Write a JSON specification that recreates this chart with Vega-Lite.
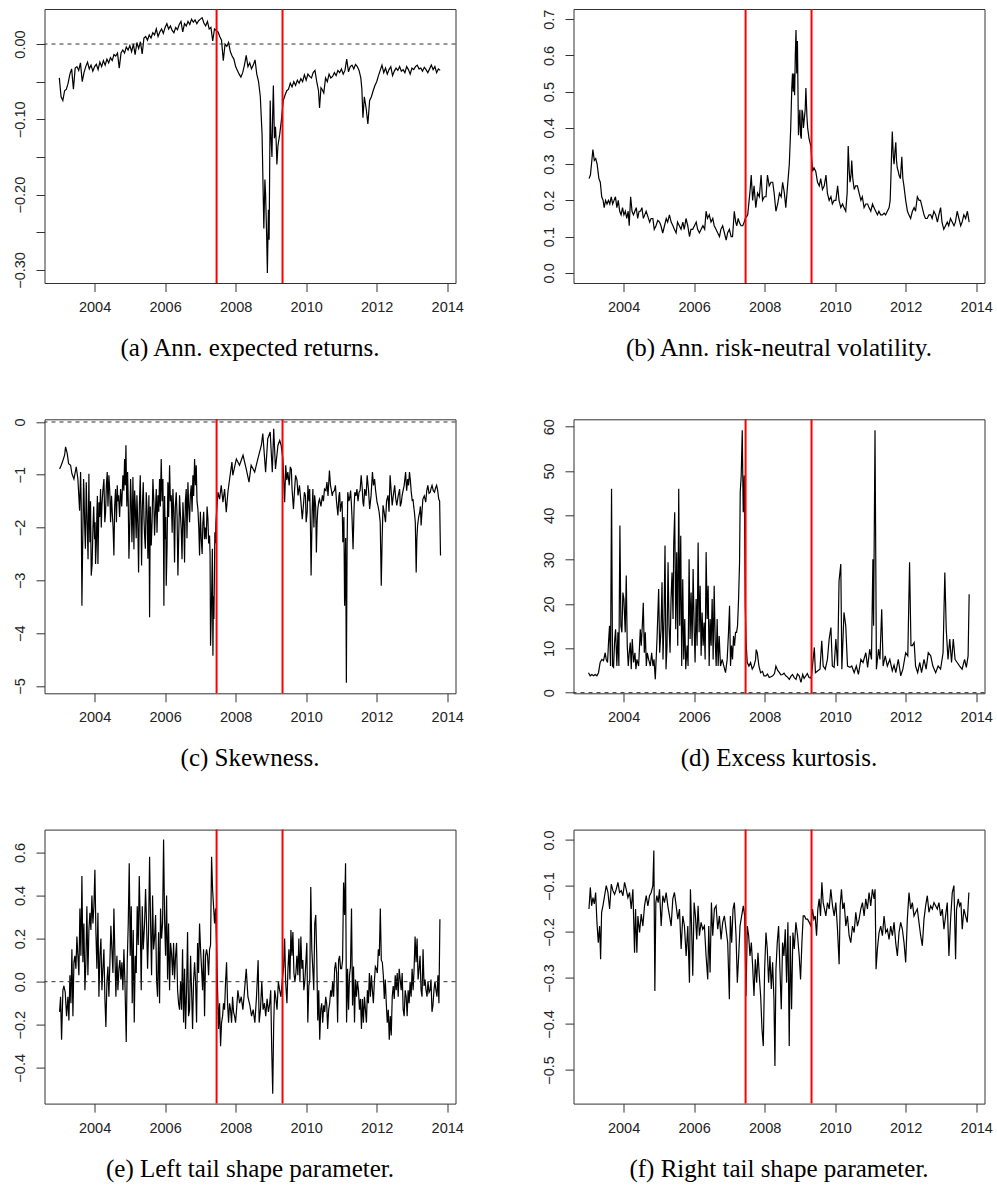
{
"$schema": "https://vega.github.io/schema/vega-lite/v6.json",
"background": "white",
"padding": {"left": 11.5, "top": 7, "right": 5, "bottom": 5},
"datasets": {
"breaks": [{"t": 2007.46}, {"t": 2009.33}],
"a": [
{"t":2003.00,"v":-0.045},{"t":2003.05,"v":-0.070},{"t":2003.10,"v":-0.075},{"t":2003.15,"v":-0.062},{"t":2003.20,"v":-0.060},{"t":2003.25,"v":-0.052},{"t":2003.30,"v":-0.040},{"t":2003.35,"v":-0.033},{"t":2003.40,"v":-0.060},{"t":2003.45,"v":-0.032},{"t":2003.50,"v":-0.030},{"t":2003.55,"v":-0.035},{"t":2003.60,"v":-0.025},{"t":2003.65,"v":-0.050},{"t":2003.70,"v":-0.038},{"t":2003.75,"v":-0.030},{"t":2003.80,"v":-0.024},{"t":2003.85,"v":-0.033},{"t":2003.90,"v":-0.028},{"t":2003.95,"v":-0.036},
{"t":2004.00,"v":-0.030},{"t":2004.05,"v":-0.027},{"t":2004.10,"v":-0.034},{"t":2004.15,"v":-0.024},{"t":2004.20,"v":-0.030},{"t":2004.25,"v":-0.022},{"t":2004.30,"v":-0.028},{"t":2004.35,"v":-0.020},{"t":2004.40,"v":-0.025},{"t":2004.45,"v":-0.018},{"t":2004.50,"v":-0.022},{"t":2004.55,"v":-0.014},{"t":2004.60,"v":-0.016},{"t":2004.65,"v":-0.012},{"t":2004.70,"v":-0.032},{"t":2004.75,"v":-0.012},{"t":2004.80,"v":-0.008},{"t":2004.85,"v":-0.012},{"t":2004.90,"v":-0.004},{"t":2004.95,"v":-0.008},
{"t":2005.00,"v":-0.002},{"t":2005.05,"v":-0.010},{"t":2005.10,"v":0.000},{"t":2005.15,"v":-0.014},{"t":2005.20,"v":0.002},{"t":2005.25,"v":-0.006},{"t":2005.30,"v":0.003},{"t":2005.35,"v":-0.013},{"t":2005.40,"v":0.008},{"t":2005.45,"v":0.010},{"t":2005.50,"v":0.005},{"t":2005.55,"v":0.012},{"t":2005.60,"v":0.008},{"t":2005.65,"v":0.015},{"t":2005.70,"v":0.012},{"t":2005.75,"v":0.020},{"t":2005.80,"v":0.010},{"t":2005.85,"v":0.016},{"t":2005.90,"v":0.020},{"t":2005.95,"v":0.014},
{"t":2006.00,"v":0.022},{"t":2006.05,"v":0.027},{"t":2006.10,"v":0.020},{"t":2006.15,"v":0.024},{"t":2006.20,"v":0.018},{"t":2006.25,"v":0.015},{"t":2006.30,"v":0.022},{"t":2006.35,"v":0.019},{"t":2006.40,"v":0.026},{"t":2006.45,"v":0.030},{"t":2006.50,"v":0.016},{"t":2006.55,"v":0.027},{"t":2006.60,"v":0.024},{"t":2006.65,"v":0.030},{"t":2006.70,"v":0.026},{"t":2006.75,"v":0.033},{"t":2006.80,"v":0.029},{"t":2006.85,"v":0.032},{"t":2006.90,"v":0.027},{"t":2006.95,"v":0.031},
{"t":2007.00,"v":0.033},{"t":2007.05,"v":0.035},{"t":2007.10,"v":0.028},{"t":2007.15,"v":0.024},{"t":2007.20,"v":0.030},{"t":2007.25,"v":0.020},{"t":2007.30,"v":0.022},{"t":2007.35,"v":0.004},{"t":2007.40,"v":0.020},{"t":2007.45,"v":0.018},{"t":2007.50,"v":0.016},{"t":2007.55,"v":0.010},{"t":2007.60,"v":0.005},{"t":2007.65,"v":-0.022},{"t":2007.70,"v":0.000},{"t":2007.75,"v":-0.003},{"t":2007.80,"v":0.002},{"t":2007.85,"v":-0.010},{"t":2007.90,"v":-0.016},{"t":2007.95,"v":-0.020},
{"t":2008.00,"v":-0.030},{"t":2008.05,"v":-0.035},{"t":2008.10,"v":-0.040},{"t":2008.15,"v":-0.044},{"t":2008.20,"v":-0.038},{"t":2008.25,"v":-0.028},{"t":2008.30,"v":-0.015},{"t":2008.35,"v":-0.030},{"t":2008.40,"v":-0.025},{"t":2008.45,"v":-0.033},{"t":2008.50,"v":-0.028},{"t":2008.55,"v":-0.021},{"t":2008.60,"v":-0.040},{"t":2008.65,"v":-0.050},{"t":2008.70,"v":-0.070},{"t":2008.75,"v":-0.120},{"t":2008.80,"v":-0.245},{"t":2008.83,"v":-0.180},{"t":2008.85,"v":-0.200},{"t":2008.88,"v":-0.255},{"t":2008.90,"v":-0.304},{"t":2008.93,"v":-0.220},{"t":2008.95,"v":-0.260},
{"t":2008.98,"v":-0.075},{"t":2009.00,"v":-0.120},{"t":2009.03,"v":-0.150},{"t":2009.05,"v":-0.095},{"t":2009.07,"v":-0.055},{"t":2009.10,"v":-0.125},{"t":2009.13,"v":-0.110},{"t":2009.15,"v":-0.130},{"t":2009.17,"v":-0.160},{"t":2009.20,"v":-0.135},{"t":2009.25,"v":-0.120},{"t":2009.30,"v":-0.100},{"t":2009.35,"v":-0.075},{"t":2009.40,"v":-0.068},{"t":2009.45,"v":-0.062},{"t":2009.50,"v":-0.060},{"t":2009.55,"v":-0.052},{"t":2009.60,"v":-0.057},{"t":2009.65,"v":-0.050},{"t":2009.70,"v":-0.055},{"t":2009.75,"v":-0.048},{"t":2009.80,"v":-0.052},{"t":2009.85,"v":-0.046},{"t":2009.90,"v":-0.050},{"t":2009.95,"v":-0.041},
{"t":2010.00,"v":-0.048},{"t":2010.05,"v":-0.040},{"t":2010.10,"v":-0.043},{"t":2010.15,"v":-0.045},{"t":2010.20,"v":-0.038},{"t":2010.25,"v":-0.035},{"t":2010.30,"v":-0.050},{"t":2010.35,"v":-0.062},{"t":2010.38,"v":-0.085},{"t":2010.42,"v":-0.058},{"t":2010.45,"v":-0.060},{"t":2010.50,"v":-0.065},{"t":2010.55,"v":-0.045},{"t":2010.60,"v":-0.050},{"t":2010.65,"v":-0.040},{"t":2010.70,"v":-0.045},{"t":2010.75,"v":-0.043},{"t":2010.80,"v":-0.038},{"t":2010.85,"v":-0.042},{"t":2010.90,"v":-0.035},{"t":2010.95,"v":-0.038},
{"t":2011.00,"v":-0.033},{"t":2011.05,"v":-0.040},{"t":2011.10,"v":-0.035},{"t":2011.15,"v":-0.020},{"t":2011.20,"v":-0.037},{"t":2011.25,"v":-0.030},{"t":2011.30,"v":-0.028},{"t":2011.35,"v":-0.033},{"t":2011.40,"v":-0.027},{"t":2011.45,"v":-0.030},{"t":2011.50,"v":-0.035},{"t":2011.55,"v":-0.045},{"t":2011.58,"v":-0.060},{"t":2011.61,"v":-0.098},{"t":2011.65,"v":-0.070},{"t":2011.70,"v":-0.085},{"t":2011.75,"v":-0.106},{"t":2011.80,"v":-0.075},{"t":2011.85,"v":-0.070},{"t":2011.90,"v":-0.062},{"t":2011.95,"v":-0.055},
{"t":2012.00,"v":-0.050},{"t":2012.05,"v":-0.042},{"t":2012.10,"v":-0.035},{"t":2012.15,"v":-0.028},{"t":2012.20,"v":-0.038},{"t":2012.25,"v":-0.032},{"t":2012.30,"v":-0.040},{"t":2012.35,"v":-0.034},{"t":2012.40,"v":-0.030},{"t":2012.45,"v":-0.042},{"t":2012.50,"v":-0.036},{"t":2012.55,"v":-0.032},{"t":2012.60,"v":-0.035},{"t":2012.65,"v":-0.030},{"t":2012.70,"v":-0.036},{"t":2012.75,"v":-0.034},{"t":2012.80,"v":-0.038},{"t":2012.85,"v":-0.030},{"t":2012.90,"v":-0.034},{"t":2012.95,"v":-0.040},
{"t":2013.00,"v":-0.032},{"t":2013.05,"v":-0.034},{"t":2013.10,"v":-0.030},{"t":2013.15,"v":-0.028},{"t":2013.20,"v":-0.033},{"t":2013.25,"v":-0.032},{"t":2013.30,"v":-0.036},{"t":2013.35,"v":-0.031},{"t":2013.40,"v":-0.034},{"t":2013.45,"v":-0.038},{"t":2013.50,"v":-0.033},{"t":2013.55,"v":-0.028},{"t":2013.60,"v":-0.034},{"t":2013.65,"v":-0.030},{"t":2013.70,"v":-0.038},{"t":2013.75,"v":-0.033},{"t":2013.80,"v":-0.035}
],
"b": [
{"t":2003.02,"v":0.26},{"t":2003.06,"v":0.27},{"t":2003.10,"v":0.31},{"t":2003.13,"v":0.34},{"t":2003.17,"v":0.31},{"t":2003.21,"v":0.315},{"t":2003.25,"v":0.30},{"t":2003.30,"v":0.26},{"t":2003.34,"v":0.25},{"t":2003.38,"v":0.21},{"t":2003.42,"v":0.20},{"t":2003.45,"v":0.18},{"t":2003.49,"v":0.20},{"t":2003.53,"v":0.19},{"t":2003.57,"v":0.20},{"t":2003.61,"v":0.19},{"t":2003.65,"v":0.21},{"t":2003.69,"v":0.19},{"t":2003.73,"v":0.20},{"t":2003.77,"v":0.21},{"t":2003.81,"v":0.18},{"t":2003.85,"v":0.20},{"t":2003.89,"v":0.17},{"t":2003.93,"v":0.16},{"t":2003.97,"v":0.18},
{"t":2004.01,"v":0.16},{"t":2004.05,"v":0.17},{"t":2004.09,"v":0.15},{"t":2004.13,"v":0.17},{"t":2004.16,"v":0.13},{"t":2004.20,"v":0.21},{"t":2004.24,"v":0.17},{"t":2004.28,"v":0.16},{"t":2004.32,"v":0.17},{"t":2004.36,"v":0.18},{"t":2004.40,"v":0.15},{"t":2004.44,"v":0.17},{"t":2004.48,"v":0.17},{"t":2004.52,"v":0.18},{"t":2004.56,"v":0.15},{"t":2004.60,"v":0.16},{"t":2004.64,"v":0.17},{"t":2004.69,"v":0.155},{"t":2004.74,"v":0.14},{"t":2004.78,"v":0.15},{"t":2004.83,"v":0.15},{"t":2004.87,"v":0.12},{"t":2004.92,"v":0.13},{"t":2004.97,"v":0.145},
{"t":2005.02,"v":0.14},{"t":2005.06,"v":0.13},{"t":2005.11,"v":0.11},{"t":2005.16,"v":0.13},{"t":2005.21,"v":0.15},{"t":2005.25,"v":0.14},{"t":2005.30,"v":0.16},{"t":2005.35,"v":0.14},{"t":2005.40,"v":0.13},{"t":2005.44,"v":0.12},{"t":2005.49,"v":0.11},{"t":2005.53,"v":0.14},{"t":2005.58,"v":0.13},{"t":2005.63,"v":0.12},{"t":2005.68,"v":0.14},{"t":2005.72,"v":0.12},{"t":2005.77,"v":0.15},{"t":2005.82,"v":0.13},{"t":2005.87,"v":0.10},{"t":2005.91,"v":0.12},{"t":2005.96,"v":0.12},
{"t":2006.01,"v":0.13},{"t":2006.06,"v":0.14},{"t":2006.10,"v":0.12},{"t":2006.15,"v":0.11},{"t":2006.20,"v":0.12},{"t":2006.25,"v":0.13},{"t":2006.30,"v":0.12},{"t":2006.34,"v":0.17},{"t":2006.38,"v":0.15},{"t":2006.43,"v":0.16},{"t":2006.48,"v":0.14},{"t":2006.53,"v":0.15},{"t":2006.57,"v":0.13},{"t":2006.62,"v":0.12},{"t":2006.67,"v":0.11},{"t":2006.72,"v":0.10},{"t":2006.76,"v":0.12},{"t":2006.81,"v":0.13},{"t":2006.86,"v":0.11},{"t":2006.91,"v":0.09},{"t":2006.95,"v":0.11},
{"t":2007.00,"v":0.12},{"t":2007.05,"v":0.10},{"t":2007.09,"v":0.10},{"t":2007.14,"v":0.17},{"t":2007.18,"v":0.14},{"t":2007.21,"v":0.13},{"t":2007.25,"v":0.15},{"t":2007.28,"v":0.14},{"t":2007.33,"v":0.13},{"t":2007.38,"v":0.13},{"t":2007.42,"v":0.14},{"t":2007.45,"v":0.15},{"t":2007.49,"v":0.155},{"t":2007.52,"v":0.16},{"t":2007.56,"v":0.20},{"t":2007.59,"v":0.23},{"t":2007.62,"v":0.27},{"t":2007.66,"v":0.20},{"t":2007.70,"v":0.24},{"t":2007.75,"v":0.18},{"t":2007.80,"v":0.22},{"t":2007.85,"v":0.21},{"t":2007.90,"v":0.27},{"t":2007.94,"v":0.20},{"t":2007.99,"v":0.21},
{"t":2008.04,"v":0.21},{"t":2008.08,"v":0.27},{"t":2008.13,"v":0.24},{"t":2008.18,"v":0.25},{"t":2008.23,"v":0.25},{"t":2008.27,"v":0.22},{"t":2008.32,"v":0.17},{"t":2008.37,"v":0.19},{"t":2008.42,"v":0.22},{"t":2008.47,"v":0.21},{"t":2008.51,"v":0.25},{"t":2008.56,"v":0.22},{"t":2008.60,"v":0.18},{"t":2008.65,"v":0.24},{"t":2008.70,"v":0.30},{"t":2008.74,"v":0.40},{"t":2008.77,"v":0.51},{"t":2008.79,"v":0.55},{"t":2008.81,"v":0.50},{"t":2008.83,"v":0.55},{"t":2008.85,"v":0.49},{"t":2008.87,"v":0.60},{"t":2008.89,"v":0.67},{"t":2008.91,"v":0.55},{"t":2008.93,"v":0.64},{"t":2008.96,"v":0.38},{"t":2008.98,"v":0.42},
{"t":2009.00,"v":0.45},{"t":2009.02,"v":0.38},{"t":2009.04,"v":0.37},{"t":2009.06,"v":0.45},{"t":2009.08,"v":0.44},{"t":2009.10,"v":0.40},{"t":2009.12,"v":0.42},{"t":2009.15,"v":0.45},{"t":2009.17,"v":0.51},{"t":2009.20,"v":0.43},{"t":2009.22,"v":0.40},{"t":2009.26,"v":0.37},{"t":2009.31,"v":0.35},{"t":2009.36,"v":0.28},{"t":2009.40,"v":0.29},{"t":2009.45,"v":0.28},{"t":2009.50,"v":0.25},{"t":2009.55,"v":0.24},{"t":2009.59,"v":0.26},{"t":2009.64,"v":0.23},{"t":2009.69,"v":0.24},{"t":2009.74,"v":0.27},{"t":2009.78,"v":0.22},{"t":2009.83,"v":0.20},{"t":2009.88,"v":0.21},{"t":2009.92,"v":0.19},{"t":2009.97,"v":0.20},
{"t":2010.02,"v":0.20},{"t":2010.07,"v":0.24},{"t":2010.11,"v":0.20},{"t":2010.16,"v":0.18},{"t":2010.21,"v":0.19},{"t":2010.25,"v":0.18},{"t":2010.30,"v":0.17},{"t":2010.34,"v":0.22},{"t":2010.37,"v":0.35},{"t":2010.40,"v":0.28},{"t":2010.42,"v":0.25},{"t":2010.45,"v":0.27},{"t":2010.47,"v":0.31},{"t":2010.50,"v":0.26},{"t":2010.54,"v":0.23},{"t":2010.58,"v":0.24},{"t":2010.63,"v":0.24},{"t":2010.68,"v":0.22},{"t":2010.73,"v":0.20},{"t":2010.77,"v":0.21},{"t":2010.82,"v":0.18},{"t":2010.87,"v":0.19},{"t":2010.92,"v":0.19},{"t":2010.96,"v":0.18},
{"t":2011.01,"v":0.17},{"t":2011.06,"v":0.19},{"t":2011.10,"v":0.18},{"t":2011.15,"v":0.17},{"t":2011.20,"v":0.16},{"t":2011.24,"v":0.17},{"t":2011.29,"v":0.16},{"t":2011.34,"v":0.16},{"t":2011.39,"v":0.165},{"t":2011.43,"v":0.16},{"t":2011.48,"v":0.17},{"t":2011.53,"v":0.18},{"t":2011.56,"v":0.20},{"t":2011.58,"v":0.26},{"t":2011.60,"v":0.33},{"t":2011.62,"v":0.39},{"t":2011.65,"v":0.32},{"t":2011.67,"v":0.30},{"t":2011.70,"v":0.34},{"t":2011.72,"v":0.36},{"t":2011.74,"v":0.31},{"t":2011.76,"v":0.29},{"t":2011.79,"v":0.28},{"t":2011.81,"v":0.27},{"t":2011.85,"v":0.26},{"t":2011.89,"v":0.32},{"t":2011.92,"v":0.26},{"t":2011.95,"v":0.24},
{"t":2012.00,"v":0.20},{"t":2012.05,"v":0.17},{"t":2012.09,"v":0.16},{"t":2012.14,"v":0.15},{"t":2012.19,"v":0.17},{"t":2012.24,"v":0.18},{"t":2012.28,"v":0.17},{"t":2012.33,"v":0.21},{"t":2012.38,"v":0.20},{"t":2012.42,"v":0.20},{"t":2012.47,"v":0.18},{"t":2012.52,"v":0.16},{"t":2012.56,"v":0.15},{"t":2012.61,"v":0.15},{"t":2012.66,"v":0.16},{"t":2012.71,"v":0.16},{"t":2012.75,"v":0.15},{"t":2012.80,"v":0.17},{"t":2012.85,"v":0.16},{"t":2012.90,"v":0.14},{"t":2012.94,"v":0.16},{"t":2012.99,"v":0.18},
{"t":2013.03,"v":0.14},{"t":2013.08,"v":0.12},{"t":2013.13,"v":0.13},{"t":2013.18,"v":0.14},{"t":2013.22,"v":0.13},{"t":2013.27,"v":0.15},{"t":2013.32,"v":0.14},{"t":2013.37,"v":0.13},{"t":2013.41,"v":0.14},{"t":2013.46,"v":0.17},{"t":2013.51,"v":0.15},{"t":2013.56,"v":0.13},{"t":2013.60,"v":0.14},{"t":2013.65,"v":0.16},{"t":2013.70,"v":0.15},{"t":2013.75,"v":0.17},{"t":2013.80,"v":0.14}
],
"c": [
{"t":2003.008,"v":-0.89},{"t":2003.055,"v":-0.82},{"t":2003.102,"v":-0.73},{"t":2003.150,"v":-0.63},{"t":2003.178,"v":-0.47},{"t":2003.225,"v":-0.60},{"t":2003.263,"v":-0.79},{"t":2003.320,"v":-0.82},{"t":2003.357,"v":-0.98},{"t":2003.414,"v":-1.08},{"t":2003.480,"v":-0.85},{"t":2003.527,"v":-1.08},{"t":2003.575,"v":-1.68},{"t":2003.603,"v":-0.95},{"t":2003.641,"v":-3.48},{"t":2003.688,"v":-1.08},{"t":2003.716,"v":-1.90},{"t":2003.764,"v":-1.14},{"t":2003.792,"v":-1.96},{"t":2003.839,"v":-0.98},{"t":2003.868,"v":-2.28},{"t":2003.905,"v":-2.91},{"t":2003.953,"v":-2.03},
{"t":2004.000,"v":-2.22},{"t":2004.028,"v":-2.69},{"t":2004.066,"v":-1.71},{"t":2004.095,"v":-2.69},{"t":2004.123,"v":-1.52},{"t":2004.170,"v":-1.27},{"t":2004.208,"v":-1.58},{"t":2004.265,"v":-1.08},{"t":2004.312,"v":-1.71},{"t":2004.359,"v":-0.95},{"t":2004.406,"v":-1.01},{"t":2004.454,"v":-1.90},{"t":2004.501,"v":-1.71},{"t":2004.548,"v":-2.53},{"t":2004.595,"v":-1.27},{"t":2004.643,"v":-1.20},{"t":2004.681,"v":-1.39},{"t":2004.737,"v":-1.27},{"t":2004.803,"v":-1.01},{"t":2004.851,"v":-0.70},{"t":2004.889,"v":-0.44},{"t":2004.936,"v":-0.95},{"t":2004.974,"v":-2.59},
{"t":2005.021,"v":-1.08},{"t":2005.059,"v":-2.28},{"t":2005.087,"v":-1.04},{"t":2005.116,"v":-2.41},{"t":2005.154,"v":-1.58},{"t":2005.201,"v":-1.39},{"t":2005.248,"v":-2.85},{"t":2005.295,"v":-1.01},{"t":2005.333,"v":-2.72},{"t":2005.380,"v":-1.14},{"t":2005.418,"v":-2.15},{"t":2005.465,"v":-1.33},{"t":2005.512,"v":-2.59},{"t":2005.541,"v":-1.39},{"t":2005.560,"v":-3.70},{"t":2005.607,"v":-2.34},{"t":2005.654,"v":-1.08},{"t":2005.701,"v":-2.15},{"t":2005.749,"v":-1.27},{"t":2005.796,"v":-1.39},{"t":2005.843,"v":-1.08},{"t":2005.890,"v":-0.70},{"t":2005.938,"v":-1.08},{"t":2005.966,"v":-3.48},
{"t":2006.004,"v":-2.22},{"t":2006.032,"v":-3.10},{"t":2006.079,"v":-1.14},{"t":2006.127,"v":-0.82},{"t":2006.174,"v":-1.39},{"t":2006.221,"v":-1.27},{"t":2006.268,"v":-2.66},{"t":2006.316,"v":-1.33},{"t":2006.363,"v":-2.91},{"t":2006.410,"v":-1.39},{"t":2006.457,"v":-2.03},{"t":2006.505,"v":-1.52},{"t":2006.552,"v":-2.66},{"t":2006.599,"v":-1.27},{"t":2006.647,"v":-1.14},{"t":2006.694,"v":-1.90},{"t":2006.741,"v":-1.20},{"t":2006.788,"v":-1.01},{"t":2006.836,"v":-0.70},{"t":2006.883,"v":-0.82},{"t":2006.930,"v":-1.65},{"t":2006.977,"v":-2.53},
{"t":2007.025,"v":-2.22},{"t":2007.072,"v":-1.90},{"t":2007.119,"v":-2.22},{"t":2007.166,"v":-2.22},{"t":2007.214,"v":-1.84},{"t":2007.261,"v":-2.15},{"t":2007.289,"v":-4.24},{"t":2007.327,"v":-2.97},{"t":2007.356,"v":-4.43},{"t":2007.384,"v":-3.73},{"t":2007.412,"v":-2.09},{"t":2007.441,"v":-1.90},{"t":2007.498,"v":-1.33},{"t":2007.545,"v":-1.46},{"t":2007.592,"v":-1.20},{"t":2007.640,"v":-1.52},{"t":2007.687,"v":-1.27},{"t":2007.734,"v":-1.71},{"t":2007.781,"v":-1.33},{"t":2007.829,"v":-1.08},{"t":2007.895,"v":-0.76},
{"t":2007.92,"v":-1.01},{"t":2008.02,"v":-0.70},{"t":2008.11,"v":-0.82},{"t":2008.21,"v":-0.63},{"t":2008.30,"v":-0.89},{"t":2008.38,"v":-1.14},{"t":2008.44,"v":-0.82},{"t":2008.54,"v":-0.95},{"t":2008.63,"v":-0.70},{"t":2008.73,"v":-0.44},{"t":2008.77,"v":-0.22},{"t":2008.85,"v":-0.95},{"t":2008.91,"v":-0.32},{"t":2008.98,"v":-0.19},{"t":2009.04,"v":-0.95},{"t":2009.08,"v":-0.13},{"t":2009.13,"v":-0.89},{"t":2009.20,"v":-0.44},{"t":2009.25,"v":-0.35},{"t":2009.29,"v":-0.44},{"t":2009.34,"v":-0.70},{"t":2009.39,"v":-1.52},{"t":2009.42,"v":-0.82},{"t":2009.48,"v":-0.95},{"t":2009.55,"v":-0.85},{"t":2009.60,"v":-1.27},{"t":2009.64,"v":-1.65},{"t":2009.70,"v":-1.01},{"t":2009.77,"v":-1.39},{"t":2009.81,"v":-1.20},{"t":2009.89,"v":-1.84},{"t":2009.95,"v":-1.33},
{"t":2010.00,"v":-1.90},{"t":2010.05,"v":-1.20},{"t":2010.10,"v":-1.27},{"t":2010.14,"v":-2.91},{"t":2010.19,"v":-1.27},{"t":2010.24,"v":-1.39},{"t":2010.29,"v":-2.47},{"t":2010.33,"v":-1.65},{"t":2010.38,"v":-1.46},{"t":2010.46,"v":-1.39},{"t":2010.52,"v":-1.27},{"t":2010.59,"v":-1.14},{"t":2010.66,"v":-0.92},{"t":2010.71,"v":-1.27},{"t":2010.76,"v":-1.33},{"t":2010.83,"v":-1.20},{"t":2010.90,"v":-1.77},{"t":2010.95,"v":-1.33},{"t":2010.99,"v":-1.58},
{"t":2011.04,"v":-2.28},{"t":2011.09,"v":-3.48},{"t":2011.14,"v":-4.94},{"t":2011.18,"v":-1.33},{"t":2011.23,"v":-1.46},{"t":2011.28,"v":-1.52},{"t":2011.33,"v":-2.41},{"t":2011.38,"v":-1.33},{"t":2011.44,"v":-1.27},{"t":2011.50,"v":-1.33},{"t":2011.56,"v":-1.01},{"t":2011.61,"v":-1.52},{"t":2011.66,"v":-1.27},{"t":2011.73,"v":-1.01},{"t":2011.80,"v":-1.65},{"t":2011.88,"v":-0.95},{"t":2011.94,"v":-1.08},
{"t":2012.01,"v":-1.52},{"t":2012.07,"v":-1.71},{"t":2012.13,"v":-3.10},{"t":2012.18,"v":-1.58},{"t":2012.25,"v":-1.90},{"t":2012.32,"v":-1.39},{"t":2012.38,"v":-1.01},{"t":2012.44,"v":-1.58},{"t":2012.51,"v":-1.20},{"t":2012.57,"v":-1.58},{"t":2012.65,"v":-1.27},{"t":2012.70,"v":-1.52},{"t":2012.74,"v":-1.33},{"t":2012.82,"v":-0.95},{"t":2012.88,"v":-1.08},{"t":2012.93,"v":-0.95},{"t":2012.98,"v":-1.33},
{"t":2013.03,"v":-1.46},{"t":2013.07,"v":-1.71},{"t":2013.12,"v":-2.85},{"t":2013.16,"v":-1.96},{"t":2013.22,"v":-1.71},{"t":2013.26,"v":-1.96},{"t":2013.31,"v":-1.46},{"t":2013.39,"v":-1.52},{"t":2013.45,"v":-1.20},{"t":2013.52,"v":-1.33},{"t":2013.57,"v":-1.20},{"t":2013.64,"v":-1.33},{"t":2013.70,"v":-1.20},{"t":2013.76,"v":-1.46},{"t":2013.81,"v":-2.53},
{"t":2003.62,"v":-1.5},{"t":2003.665,"v":-2.2},{"t":2003.70,"v":-1.3},{"t":2003.74,"v":-2.4},{"t":2003.78,"v":-1.6},{"t":2003.815,"v":-2.6},{"t":2003.85,"v":-1.7},{"t":2003.885,"v":-1.5},{"t":2003.93,"v":-2.7},{"t":2003.975,"v":-1.6},{"t":2004.015,"v":-1.9},{"t":2004.05,"v":-2.3},{"t":2004.08,"v":-1.4},{"t":2004.11,"v":-2.1},{"t":2004.145,"v":-1.8},{"t":2004.19,"v":-2.0},{"t":2004.235,"v":-1.3},{"t":2004.29,"v":-1.9},{"t":2004.335,"v":-1.2},{"t":2004.38,"v":-1.6},{"t":2004.43,"v":-1.3},{"t":2004.48,"v":-1.4},{"t":2004.525,"v":-2.0},{"t":2004.57,"v":-1.6},{"t":2004.62,"v":-1.9},{"t":2004.66,"v":-1.5},{"t":2004.71,"v":-1.8},{"t":2004.77,"v":-1.6},{"t":2004.83,"v":-1.3},{"t":2004.87,"v":-1.2},{"t":2004.915,"v":-1.6},{"t":2004.955,"v":-1.5},
{"t":2005.00,"v":-1.9},{"t":2005.04,"v":-1.5},{"t":2005.073,"v":-1.9},{"t":2005.10,"v":-1.6},{"t":2005.135,"v":-1.3},{"t":2005.18,"v":-2.2},{"t":2005.225,"v":-1.9},{"t":2005.27,"v":-1.6},{"t":2005.315,"v":-1.8},{"t":2005.355,"v":-1.6},{"t":2005.40,"v":-1.8},{"t":2005.44,"v":-2.4},{"t":2005.49,"v":-1.7},{"t":2005.525,"v":-2.0},{"t":2005.58,"v":-1.6},{"t":2005.63,"v":-1.9},{"t":2005.68,"v":-1.5},{"t":2005.725,"v":-1.7},{"t":2005.77,"v":-2.1},{"t":2005.82,"v":-1.7},{"t":2005.865,"v":-1.6},{"t":2005.915,"v":-1.5},{"t":2005.952,"v":-2.0},{"t":2005.985,"v":-1.4},
{"t":2006.018,"v":-1.8},{"t":2006.055,"v":-2.4},{"t":2006.10,"v":-1.8},{"t":2006.15,"v":-1.5},{"t":2006.20,"v":-2.1},{"t":2006.245,"v":-1.7},{"t":2006.29,"v":-1.6},{"t":2006.34,"v":-1.8},{"t":2006.385,"v":-2.2},{"t":2006.43,"v":-1.7},{"t":2006.48,"v":-2.6},{"t":2006.53,"v":-1.9},{"t":2006.575,"v":-1.5},{"t":2006.62,"v":-2.2},{"t":2006.67,"v":-1.6},{"t":2006.715,"v":-1.4},{"t":2006.765,"v":-1.7},{"t":2006.81,"v":-1.4},{"t":2006.86,"v":-1.2},{"t":2006.905,"v":-1.5},{"t":2006.955,"v":-2.0},
{"t":2007.00,"v":-1.7},{"t":2007.05,"v":-2.5},{"t":2007.095,"v":-1.7},{"t":2007.14,"v":-2.0},{"t":2007.19,"v":-1.6},{"t":2007.235,"v":-2.3},{"t":2007.275,"v":-2.5},{"t":2007.31,"v":-3.6},{"t":2007.34,"v":-2.4},{"t":2007.37,"v":-3.3},{"t":2007.40,"v":-2.8},{"t":2007.425,"v":-2.3},
{"t":2009.45,"v":-1.1},{"t":2009.52,"v":-1.2},{"t":2009.58,"v":-0.9},{"t":2009.67,"v":-1.3},{"t":2009.74,"v":-1.1},{"t":2009.85,"v":-1.5},{"t":2009.92,"v":-1.6},{"t":2009.98,"v":-1.4},{"t":2010.03,"v":-1.7},{"t":2010.08,"v":-1.5},{"t":2010.12,"v":-1.9},{"t":2010.17,"v":-1.7},{"t":2010.22,"v":-2.0},{"t":2010.27,"v":-1.6},{"t":2010.31,"v":-1.9},{"t":2010.36,"v":-1.5},{"t":2010.42,"v":-1.6},{"t":2010.49,"v":-1.5},{"t":2010.56,"v":-1.3},{"t":2010.62,"v":-1.4},{"t":2010.69,"v":-1.2},{"t":2010.74,"v":-1.4},{"t":2010.80,"v":-1.3},{"t":2010.86,"v":-1.5},{"t":2010.93,"v":-1.4},{"t":2010.97,"v":-1.7},
{"t":2011.02,"v":-1.5},{"t":2011.07,"v":-1.8},{"t":2011.12,"v":-2.2},{"t":2011.16,"v":-2.4},{"t":2011.21,"v":-1.5},{"t":2011.26,"v":-1.3},{"t":2011.30,"v":-1.8},{"t":2011.36,"v":-1.6},{"t":2011.41,"v":-1.4},{"t":2011.47,"v":-1.5},{"t":2011.53,"v":-1.3},{"t":2011.59,"v":-1.25},{"t":2011.63,"v":-1.6},{"t":2011.70,"v":-1.4},{"t":2011.77,"v":-1.3},{"t":2011.84,"v":-1.4},{"t":2011.91,"v":-1.2},{"t":2011.97,"v":-1.3},
{"t":2012.04,"v":-1.6},{"t":2012.10,"v":-1.9},{"t":2012.155,"v":-2.2},{"t":2012.21,"v":-1.7},{"t":2012.28,"v":-1.5},{"t":2012.35,"v":-1.7},{"t":2012.41,"v":-1.3},{"t":2012.47,"v":-1.4},{"t":2012.54,"v":-1.45},{"t":2012.61,"v":-1.4},{"t":2012.67,"v":-1.6},{"t":2012.72,"v":-1.4},{"t":2012.78,"v":-1.2},{"t":2012.85,"v":-1.3},{"t":2012.905,"v":-1.2},{"t":2012.955,"v":-1.1},
{"t":2013.01,"v":-1.5},{"t":2013.05,"v":-1.6},{"t":2013.095,"v":-1.9},{"t":2013.14,"v":-2.2},{"t":2013.19,"v":-1.8},{"t":2013.24,"v":-1.6},{"t":2013.285,"v":-1.7},{"t":2013.35,"v":-1.4},{"t":2013.42,"v":-1.3},{"t":2013.485,"v":-1.35},{"t":2013.545,"v":-1.25},{"t":2013.605,"v":-1.3},{"t":2013.67,"v":-1.25},{"t":2013.73,"v":-1.3},{"t":2013.785,"v":-1.5}
],
"d": [
{"t":2003.005,"v":4.5},{"t":2003.052,"v":3.8},{"t":2003.100,"v":4.1},{"t":2003.147,"v":3.8},{"t":2003.194,"v":4.1},{"t":2003.242,"v":3.8},{"t":2003.289,"v":4.5},{"t":2003.336,"v":6.8},{"t":2003.384,"v":7.5},{"t":2003.431,"v":7.2},{"t":2003.479,"v":9.0},{"t":2003.507,"v":7.5},{"t":2003.545,"v":6.8},{"t":2003.573,"v":11.3},{"t":2003.602,"v":15.1},{"t":2003.630,"v":6.0},{"t":2003.659,"v":46.0},{"t":2003.687,"v":6.0},{"t":2003.716,"v":5.7},{"t":2003.744,"v":11.3},{"t":2003.773,"v":14.3},{"t":2003.810,"v":6.0},{"t":2003.839,"v":13.6},{"t":2003.867,"v":6.0},{"t":2003.896,"v":37.7},{"t":2003.924,"v":15.1},{"t":2003.953,"v":13.6},{"t":2003.981,"v":22.6},
{"t":2004.009,"v":21.1},{"t":2004.047,"v":13.6},{"t":2004.076,"v":26.4},{"t":2004.104,"v":10.6},{"t":2004.133,"v":6.0},{"t":2004.161,"v":9.0},{"t":2004.190,"v":11.3},{"t":2004.218,"v":5.3},{"t":2004.246,"v":12.1},{"t":2004.284,"v":6.8},{"t":2004.322,"v":9.0},{"t":2004.351,"v":5.3},{"t":2004.379,"v":7.5},{"t":2004.427,"v":6.0},{"t":2004.474,"v":14.3},{"t":2004.502,"v":10.6},{"t":2004.531,"v":15.1},{"t":2004.559,"v":20.3},{"t":2004.588,"v":9.0},{"t":2004.616,"v":13.6},{"t":2004.645,"v":6.0},{"t":2004.673,"v":9.0},{"t":2004.711,"v":7.5},{"t":2004.758,"v":6.0},{"t":2004.796,"v":9.0},{"t":2004.834,"v":6.0},{"t":2004.863,"v":7.5},{"t":2004.900,"v":3.0},{"t":2004.948,"v":12.1},{"t":2004.995,"v":23.4},
{"t":2005.024,"v":9.0},{"t":2005.062,"v":14.3},{"t":2005.090,"v":24.9},{"t":2005.118,"v":7.5},{"t":2005.147,"v":16.6},{"t":2005.175,"v":33.2},{"t":2005.204,"v":5.3},{"t":2005.232,"v":10.6},{"t":2005.261,"v":29.4},{"t":2005.289,"v":15.1},{"t":2005.318,"v":9.0},{"t":2005.346,"v":21.1},{"t":2005.374,"v":27.1},{"t":2005.403,"v":16.6},{"t":2005.422,"v":33.5},{"t":2005.450,"v":40.7},{"t":2005.479,"v":14.3},{"t":2005.507,"v":31.7},{"t":2005.536,"v":10.6},{"t":2005.564,"v":46.0},{"t":2005.592,"v":15.1},{"t":2005.621,"v":35.4},{"t":2005.649,"v":6.0},{"t":2005.678,"v":25.6},{"t":2005.706,"v":7.5},{"t":2005.735,"v":16.6},{"t":2005.763,"v":5.3},{"t":2005.801,"v":10.6},{"t":2005.829,"v":6.0},{"t":2005.858,"v":30.1},{"t":2005.886,"v":12.1},{"t":2005.915,"v":22.6},{"t":2005.943,"v":10.6},{"t":2005.972,"v":27.9},
{"t":2006.000,"v":15.1},{"t":2006.028,"v":6.8},{"t":2006.057,"v":21.1},{"t":2006.085,"v":10.6},{"t":2006.114,"v":33.9},{"t":2006.142,"v":13.6},{"t":2006.171,"v":24.1},{"t":2006.199,"v":8.3},{"t":2006.227,"v":18.1},{"t":2006.256,"v":10.6},{"t":2006.284,"v":15.8},{"t":2006.313,"v":7.5},{"t":2006.341,"v":31.7},{"t":2006.370,"v":16.6},{"t":2006.398,"v":24.1},{"t":2006.427,"v":6.0},{"t":2006.455,"v":16.6},{"t":2006.483,"v":10.6},{"t":2006.512,"v":21.1},{"t":2006.540,"v":7.5},{"t":2006.569,"v":24.1},{"t":2006.597,"v":12.1},{"t":2006.626,"v":6.0},{"t":2006.654,"v":16.6},{"t":2006.682,"v":6.0},{"t":2006.711,"v":12.8},{"t":2006.749,"v":6.0},{"t":2006.796,"v":7.5},{"t":2006.844,"v":6.0},{"t":2006.891,"v":4.5},{"t":2006.938,"v":7.5},{"t":2006.976,"v":13.6},
{"t":2007.005,"v":19.6},{"t":2007.033,"v":6.0},{"t":2007.062,"v":10.6},{"t":2007.090,"v":7.5},{"t":2007.118,"v":12.8},{"t":2007.147,"v":10.6},{"t":2007.175,"v":13.6},{"t":2007.204,"v":13.6},{"t":2007.232,"v":15.1},{"t":2007.261,"v":21.1},{"t":2007.289,"v":29.4},{"t":2007.308,"v":45.2},{"t":2007.336,"v":49.0},{"t":2007.365,"v":59.2},{"t":2007.393,"v":40.7},{"t":2007.422,"v":49.0},{"t":2007.450,"v":19.6},{"t":2007.479,"v":10.6},{"t":2007.507,"v":6.8},{"t":2007.555,"v":6.0},{"t":2007.602,"v":6.8},{"t":2007.649,"v":5.3},{"t":2007.697,"v":6.0},{"t":2007.744,"v":7.5},{"t":2007.760,"v":9.7},{"t":2007.791,"v":9.0},{"t":2007.839,"v":6.0},{"t":2007.886,"v":4.5},{"t":2007.940,"v":4.8},{"t":2007.981,"v":3.8},
{"t":2008.04,"v":3.8},{"t":2008.08,"v":4.2},{"t":2008.13,"v":3.4},{"t":2008.18,"v":3.6},{"t":2008.23,"v":3.8},{"t":2008.28,"v":4.3},{"t":2008.32,"v":6.0},{"t":2008.37,"v":5.0},{"t":2008.42,"v":4.5},{"t":2008.46,"v":4.0},{"t":2008.51,"v":4.1},{"t":2008.55,"v":4.4},{"t":2008.60,"v":3.8},{"t":2008.65,"v":3.5},{"t":2008.70,"v":3.0},{"t":2008.74,"v":3.6},{"t":2008.79,"v":4.1},{"t":2008.84,"v":3.4},{"t":2008.89,"v":3.0},{"t":2008.93,"v":4.2},{"t":2008.98,"v":3.8},{"t":2009.03,"v":2.3},{"t":2009.08,"v":4.1},{"t":2009.12,"v":3.2},{"t":2009.17,"v":3.8},{"t":2009.21,"v":4.3},{"t":2009.26,"v":3.4},{"t":2009.30,"v":3.3},{"t":2009.33,"v":3.8},
{"t":2009.41,"v":10.2},{"t":2009.44,"v":4.5},{"t":2009.50,"v":4.9},{"t":2009.57,"v":5.3},{"t":2009.62,"v":11.7},{"t":2009.66,"v":6.0},{"t":2009.72,"v":5.3},{"t":2009.78,"v":7.5},{"t":2009.83,"v":12.1},{"t":2009.88,"v":14.7},{"t":2009.92,"v":6.0},{"t":2009.97,"v":5.7},{"t":2010.02,"v":12.1},{"t":2010.07,"v":6.0},{"t":2010.11,"v":25.2},{"t":2010.16,"v":29.0},{"t":2010.19,"v":5.3},{"t":2010.25,"v":18.1},{"t":2010.30,"v":15.1},{"t":2010.35,"v":6.0},{"t":2010.42,"v":5.7},{"t":2010.47,"v":6.0},{"t":2010.54,"v":4.5},{"t":2010.60,"v":6.0},{"t":2010.66,"v":4.1},{"t":2010.73,"v":7.5},{"t":2010.79,"v":6.8},{"t":2010.87,"v":9.0},{"t":2010.92,"v":5.7},{"t":2010.98,"v":9.8},
{"t":2011.03,"v":7.5},{"t":2011.07,"v":30.1},{"t":2011.09,"v":15.1},{"t":2011.13,"v":59.2},{"t":2011.17,"v":5.3},{"t":2011.23,"v":9.8},{"t":2011.27,"v":7.5},{"t":2011.32,"v":18.8},{"t":2011.36,"v":6.0},{"t":2011.42,"v":8.3},{"t":2011.48,"v":6.0},{"t":2011.55,"v":7.5},{"t":2011.62,"v":4.9},{"t":2011.67,"v":6.2},{"t":2011.72,"v":4.5},{"t":2011.79,"v":7.5},{"t":2011.86,"v":3.8},{"t":2011.92,"v":5.3},{"t":2012.00,"v":9.0},{"t":2012.06,"v":8.3},{"t":2012.11,"v":29.4},{"t":2012.15,"v":10.6},{"t":2012.19,"v":10.6},{"t":2012.24,"v":11.3},{"t":2012.28,"v":6.0},{"t":2012.34,"v":4.5},{"t":2012.40,"v":6.8},{"t":2012.45,"v":4.5},{"t":2012.52,"v":7.5},{"t":2012.58,"v":5.3},{"t":2012.64,"v":9.0},{"t":2012.71,"v":8.3},{"t":2012.77,"v":6.0},{"t":2012.85,"v":4.5},{"t":2012.92,"v":6.0},{"t":2012.99,"v":5.3},
{"t":2013.06,"v":9.0},{"t":2013.11,"v":27.1},{"t":2013.15,"v":14.3},{"t":2013.20,"v":7.5},{"t":2013.25,"v":12.1},{"t":2013.30,"v":6.8},{"t":2013.35,"v":12.1},{"t":2013.40,"v":7.5},{"t":2013.46,"v":6.8},{"t":2013.53,"v":6.0},{"t":2013.60,"v":5.3},{"t":2013.67,"v":7.5},{"t":2013.72,"v":5.7},{"t":2013.77,"v":8.3},{"t":2013.80,"v":22.2}
],
"e": [
{"t":2003.008,"v":-0.14},{"t":2003.036,"v":-0.07},{"t":2003.064,"v":-0.27},{"t":2003.102,"v":-0.04},{"t":2003.130,"v":-0.02},{"t":2003.168,"v":-0.05},{"t":2003.206,"v":-0.16},{"t":2003.244,"v":-0.07},{"t":2003.272,"v":-0.18},{"t":2003.301,"v":0.03},{"t":2003.329,"v":-0.10},{"t":2003.357,"v":0.15},{"t":2003.386,"v":-0.16},{"t":2003.414,"v":0.09},{"t":2003.442,"v":0.12},{"t":2003.471,"v":0.06},{"t":2003.499,"v":0.21},{"t":2003.527,"v":0.12},{"t":2003.556,"v":0.03},{"t":2003.584,"v":0.34},{"t":2003.612,"v":0.12},{"t":2003.641,"v":0.49},{"t":2003.669,"v":0.09},{"t":2003.697,"v":0.27},{"t":2003.726,"v":-0.04},{"t":2003.754,"v":0.09},{"t":2003.782,"v":0.35},{"t":2003.811,"v":0.03},{"t":2003.839,"v":0.24},{"t":2003.868,"v":0.32},{"t":2003.896,"v":0.24},{"t":2003.924,"v":0.40},{"t":2003.953,"v":0.27},{"t":2003.981,"v":0.35},
{"t":2004.009,"v":0.52},{"t":2004.038,"v":0.23},{"t":2004.066,"v":0.06},{"t":2004.095,"v":0.32},{"t":2004.123,"v":-0.07},{"t":2004.151,"v":0.12},{"t":2004.180,"v":0.20},{"t":2004.208,"v":-0.04},{"t":2004.236,"v":0.06},{"t":2004.265,"v":0.15},{"t":2004.293,"v":-0.08},{"t":2004.321,"v":-0.21},{"t":2004.350,"v":0.00},{"t":2004.378,"v":0.07},{"t":2004.406,"v":-0.07},{"t":2004.435,"v":0.09},{"t":2004.463,"v":0.26},{"t":2004.491,"v":0.15},{"t":2004.520,"v":0.04},{"t":2004.548,"v":0.34},{"t":2004.577,"v":0.12},{"t":2004.605,"v":-0.07},{"t":2004.633,"v":0.12},{"t":2004.662,"v":-0.04},{"t":2004.690,"v":0.06},{"t":2004.718,"v":0.10},{"t":2004.747,"v":0.01},{"t":2004.775,"v":0.09},{"t":2004.803,"v":-0.04},{"t":2004.832,"v":0.15},{"t":2004.860,"v":0.00},{"t":2004.898,"v":-0.28},{"t":2004.926,"v":0.09},{"t":2004.955,"v":0.27},{"t":2004.983,"v":0.55},
{"t":2005.011,"v":0.12},{"t":2005.040,"v":0.35},{"t":2005.068,"v":-0.10},{"t":2005.096,"v":0.24},{"t":2005.125,"v":-0.19},{"t":2005.153,"v":0.12},{"t":2005.181,"v":0.04},{"t":2005.210,"v":0.35},{"t":2005.238,"v":0.17},{"t":2005.267,"v":0.49},{"t":2005.295,"v":0.27},{"t":2005.323,"v":-0.04},{"t":2005.352,"v":0.35},{"t":2005.380,"v":0.15},{"t":2005.418,"v":0.27},{"t":2005.446,"v":0.43},{"t":2005.474,"v":0.27},{"t":2005.503,"v":0.06},{"t":2005.531,"v":0.23},{"t":2005.560,"v":0.58},{"t":2005.588,"v":0.27},{"t":2005.616,"v":0.03},{"t":2005.645,"v":0.40},{"t":2005.673,"v":0.15},{"t":2005.701,"v":0.20},{"t":2005.730,"v":0.31},{"t":2005.758,"v":0.01},{"t":2005.786,"v":-0.07},{"t":2005.815,"v":0.23},{"t":2005.843,"v":-0.10},{"t":2005.871,"v":0.34},{"t":2005.900,"v":0.20},{"t":2005.928,"v":0.27},{"t":2005.957,"v":0.66},{"t":2005.985,"v":0.29},
{"t":2006.013,"v":0.12},{"t":2006.042,"v":0.40},{"t":2006.070,"v":0.01},{"t":2006.098,"v":0.27},{"t":2006.127,"v":-0.04},{"t":2006.155,"v":0.18},{"t":2006.183,"v":0.13},{"t":2006.212,"v":0.03},{"t":2006.240,"v":0.18},{"t":2006.268,"v":0.01},{"t":2006.297,"v":0.12},{"t":2006.325,"v":0.18},{"t":2006.354,"v":-0.04},{"t":2006.382,"v":-0.10},{"t":2006.410,"v":-0.13},{"t":2006.439,"v":0.00},{"t":2006.467,"v":-0.13},{"t":2006.495,"v":0.15},{"t":2006.524,"v":-0.19},{"t":2006.552,"v":0.06},{"t":2006.580,"v":-0.22},{"t":2006.609,"v":-0.04},{"t":2006.637,"v":0.23},{"t":2006.665,"v":-0.16},{"t":2006.694,"v":-0.13},{"t":2006.722,"v":0.12},{"t":2006.751,"v":-0.04},{"t":2006.779,"v":-0.22},{"t":2006.807,"v":0.00},{"t":2006.836,"v":0.09},{"t":2006.864,"v":0.00},{"t":2006.892,"v":-0.19},{"t":2006.921,"v":0.18},{"t":2006.949,"v":0.04},{"t":2006.977,"v":0.27},
{"t":2007.006,"v":0.15},{"t":2007.034,"v":0.06},{"t":2007.063,"v":-0.04},{"t":2007.091,"v":0.15},{"t":2007.119,"v":-0.16},{"t":2007.148,"v":0.12},{"t":2007.176,"v":0.15},{"t":2007.204,"v":0.12},{"t":2007.233,"v":0.03},{"t":2007.261,"v":0.15},{"t":2007.289,"v":0.17},{"t":2007.318,"v":0.58},{"t":2007.346,"v":0.43},{"t":2007.374,"v":0.35},{"t":2007.403,"v":0.27},{"t":2007.431,"v":0.34},{"t":2007.459,"v":0.18},{"t":2007.488,"v":-0.04},{"t":2007.516,"v":-0.22},{"t":2007.544,"v":-0.10},{"t":2007.573,"v":-0.30},{"t":2007.601,"v":-0.19},{"t":2007.630,"v":-0.16},{"t":2007.658,"v":-0.10},{"t":2007.686,"v":-0.13},{"t":2007.715,"v":0.00},{"t":2007.743,"v":0.09},{"t":2007.771,"v":-0.10},{"t":2007.800,"v":-0.19},{"t":2007.828,"v":-0.10},{"t":2007.856,"v":-0.13},{"t":2007.885,"v":-0.19},{"t":2007.913,"v":-0.07},{"t":2007.941,"v":-0.14},{"t":2007.970,"v":-0.16},{"t":2007.998,"v":-0.19},
{"t":2008.026,"v":-0.13},{"t":2008.064,"v":-0.04},{"t":2008.112,"v":-0.10},{"t":2008.159,"v":-0.07},{"t":2008.206,"v":-0.13},{"t":2008.253,"v":-0.04},{"t":2008.301,"v":0.06},{"t":2008.348,"v":-0.07},{"t":2008.404,"v":-0.11},{"t":2008.451,"v":-0.16},{"t":2008.498,"v":-0.13},{"t":2008.545,"v":-0.19},{"t":2008.592,"v":-0.07},{"t":2008.638,"v":0.10},{"t":2008.667,"v":-0.19},{"t":2008.704,"v":-0.13},{"t":2008.742,"v":0.00},{"t":2008.779,"v":-0.13},{"t":2008.817,"v":-0.10},{"t":2008.854,"v":-0.16},{"t":2008.892,"v":-0.08},{"t":2008.930,"v":-0.14},{"t":2008.967,"v":-0.10},{"t":2008.995,"v":-0.04},
{"t":2009.023,"v":-0.31},{"t":2009.052,"v":-0.52},{"t":2009.080,"v":-0.19},{"t":2009.108,"v":-0.04},{"t":2009.136,"v":-0.07},{"t":2009.174,"v":-0.13},{"t":2009.211,"v":0.00},{"t":2009.249,"v":-0.04},{"t":2009.286,"v":-0.07},{"t":2009.324,"v":0.01},{"t":2009.362,"v":0.07},{"t":2009.390,"v":0.20},{"t":2009.418,"v":0.00},{"t":2009.455,"v":-0.10},{"t":2009.484,"v":0.06},{"t":2009.512,"v":0.15},{"t":2009.540,"v":0.01},{"t":2009.568,"v":0.24},{"t":2009.596,"v":0.12},{"t":2009.624,"v":0.23},{"t":2009.653,"v":0.04},{"t":2009.681,"v":0.00},{"t":2009.709,"v":0.04},{"t":2009.737,"v":0.12},{"t":2009.765,"v":0.03},{"t":2009.793,"v":0.20},{"t":2009.822,"v":0.00},{"t":2009.850,"v":0.21},{"t":2009.878,"v":0.06},{"t":2009.906,"v":0.10},{"t":2009.934,"v":-0.04},{"t":2009.962,"v":0.00},{"t":2009.991,"v":0.09},
{"t":2010.019,"v":0.18},{"t":2010.047,"v":-0.19},{"t":2010.075,"v":-0.02},{"t":2010.103,"v":0.01},{"t":2010.131,"v":0.44},{"t":2010.160,"v":0.15},{"t":2010.188,"v":0.06},{"t":2010.216,"v":-0.04},{"t":2010.244,"v":0.27},{"t":2010.272,"v":0.31},{"t":2010.300,"v":0.12},{"t":2010.329,"v":-0.18},{"t":2010.357,"v":-0.04},{"t":2010.385,"v":-0.27},{"t":2010.413,"v":-0.13},{"t":2010.441,"v":-0.10},{"t":2010.469,"v":-0.19},{"t":2010.498,"v":-0.11},{"t":2010.526,"v":-0.14},{"t":2010.554,"v":-0.07},{"t":2010.582,"v":-0.10},{"t":2010.610,"v":-0.22},{"t":2010.638,"v":-0.13},{"t":2010.667,"v":-0.10},{"t":2010.695,"v":-0.04},{"t":2010.723,"v":-0.07},{"t":2010.751,"v":0.00},{"t":2010.779,"v":-0.07},{"t":2010.808,"v":0.06},{"t":2010.836,"v":0.09},{"t":2010.864,"v":0.04},{"t":2010.892,"v":-0.19},{"t":2010.920,"v":0.10},{"t":2010.948,"v":0.12},{"t":2010.977,"v":0.06},
{"t":2011.005,"v":0.06},{"t":2011.033,"v":0.10},{"t":2011.061,"v":0.46},{"t":2011.089,"v":0.31},{"t":2011.117,"v":0.55},{"t":2011.146,"v":-0.19},{"t":2011.174,"v":0.06},{"t":2011.202,"v":-0.13},{"t":2011.230,"v":0.03},{"t":2011.258,"v":0.07},{"t":2011.286,"v":0.34},{"t":2011.315,"v":-0.11},{"t":2011.343,"v":0.07},{"t":2011.371,"v":-0.19},{"t":2011.399,"v":0.01},{"t":2011.427,"v":-0.07},{"t":2011.455,"v":0.00},{"t":2011.484,"v":-0.04},{"t":2011.512,"v":-0.13},{"t":2011.540,"v":-0.08},{"t":2011.568,"v":-0.22},{"t":2011.596,"v":-0.08},{"t":2011.624,"v":-0.19},{"t":2011.653,"v":-0.07},{"t":2011.681,"v":-0.13},{"t":2011.709,"v":-0.19},{"t":2011.737,"v":-0.04},{"t":2011.765,"v":-0.10},{"t":2011.793,"v":0.04},{"t":2011.822,"v":-0.07},{"t":2011.850,"v":0.03},{"t":2011.878,"v":-0.04},{"t":2011.906,"v":-0.10},{"t":2011.934,"v":0.00},{"t":2011.962,"v":0.07},{"t":2011.991,"v":0.06},
{"t":2012.019,"v":0.04},{"t":2012.047,"v":0.15},{"t":2012.075,"v":0.12},{"t":2012.103,"v":0.34},{"t":2012.131,"v":0.10},{"t":2012.160,"v":0.09},{"t":2012.188,"v":0.03},{"t":2012.216,"v":-0.08},{"t":2012.244,"v":0.01},{"t":2012.272,"v":-0.10},{"t":2012.300,"v":-0.19},{"t":2012.329,"v":-0.13},{"t":2012.357,"v":-0.27},{"t":2012.385,"v":-0.16},{"t":2012.413,"v":-0.25},{"t":2012.441,"v":-0.07},{"t":2012.469,"v":-0.02},{"t":2012.498,"v":-0.08},{"t":2012.526,"v":0.03},{"t":2012.554,"v":-0.04},{"t":2012.582,"v":0.04},{"t":2012.610,"v":-0.07},{"t":2012.638,"v":0.06},{"t":2012.667,"v":0.01},{"t":2012.695,"v":-0.04},{"t":2012.723,"v":0.04},{"t":2012.751,"v":-0.13},{"t":2012.779,"v":-0.16},{"t":2012.808,"v":-0.04},{"t":2012.836,"v":-0.07},{"t":2012.864,"v":-0.16},{"t":2012.892,"v":-0.04},{"t":2012.920,"v":-0.10},{"t":2012.948,"v":0.00},{"t":2012.977,"v":-0.07},
{"t":2013.005,"v":0.06},{"t":2013.033,"v":-0.04},{"t":2013.061,"v":0.06},{"t":2013.089,"v":0.21},{"t":2013.117,"v":0.09},{"t":2013.146,"v":0.20},{"t":2013.174,"v":0.01},{"t":2013.202,"v":0.06},{"t":2013.230,"v":0.12},{"t":2013.258,"v":-0.04},{"t":2013.286,"v":-0.07},{"t":2013.315,"v":0.15},{"t":2013.343,"v":-0.02},{"t":2013.371,"v":0.01},{"t":2013.399,"v":-0.04},{"t":2013.427,"v":-0.07},{"t":2013.455,"v":0.00},{"t":2013.484,"v":-0.05},{"t":2013.512,"v":-0.04},{"t":2013.540,"v":0.01},{"t":2013.568,"v":-0.14},{"t":2013.596,"v":-0.11},{"t":2013.624,"v":-0.04},{"t":2013.653,"v":0.00},{"t":2013.681,"v":-0.04},{"t":2013.709,"v":-0.07},{"t":2013.737,"v":0.03},{"t":2013.765,"v":-0.10},{"t":2013.793,"v":0.29}
],
"f": [
{"t":2003.019,"v":-0.150},{"t":2003.057,"v":-0.103},{"t":2003.094,"v":-0.143},{"t":2003.132,"v":-0.125},{"t":2003.170,"v":-0.139},{"t":2003.208,"v":-0.114},{"t":2003.245,"v":-0.179},{"t":2003.283,"v":-0.223},{"t":2003.321,"v":-0.187},{"t":2003.349,"v":-0.259},{"t":2003.377,"v":-0.157},{"t":2003.415,"v":-0.143},{"t":2003.462,"v":-0.121},{"t":2003.509,"v":-0.099},{"t":2003.557,"v":-0.114},{"t":2003.604,"v":-0.150},{"t":2003.651,"v":-0.096},{"t":2003.698,"v":-0.110},{"t":2003.745,"v":-0.118},{"t":2003.792,"v":-0.107},{"t":2003.840,"v":-0.092},{"t":2003.887,"v":-0.114},{"t":2003.934,"v":-0.110},{"t":2003.981,"v":-0.121},
{"t":2004.028,"v":-0.092},{"t":2004.075,"v":-0.107},{"t":2004.123,"v":-0.125},{"t":2004.170,"v":-0.114},{"t":2004.217,"v":-0.150},{"t":2004.264,"v":-0.107},{"t":2004.311,"v":-0.245},{"t":2004.340,"v":-0.150},{"t":2004.377,"v":-0.245},{"t":2004.406,"v":-0.165},{"t":2004.453,"v":-0.201},{"t":2004.500,"v":-0.161},{"t":2004.547,"v":-0.187},{"t":2004.594,"v":-0.143},{"t":2004.642,"v":-0.121},{"t":2004.689,"v":-0.143},{"t":2004.736,"v":-0.121},{"t":2004.783,"v":-0.114},{"t":2004.830,"v":-0.099},{"t":2004.858,"v":-0.023},{"t":2004.887,"v":-0.328},{"t":2004.915,"v":-0.136},{"t":2004.943,"v":-0.121},{"t":2004.981,"v":-0.136},
{"t":2005.019,"v":-0.107},{"t":2005.066,"v":-0.187},{"t":2005.113,"v":-0.121},{"t":2005.160,"v":-0.136},{"t":2005.208,"v":-0.114},{"t":2005.255,"v":-0.143},{"t":2005.302,"v":-0.165},{"t":2005.349,"v":-0.187},{"t":2005.396,"v":-0.128},{"t":2005.443,"v":-0.114},{"t":2005.491,"v":-0.143},{"t":2005.538,"v":-0.172},{"t":2005.585,"v":-0.150},{"t":2005.632,"v":-0.237},{"t":2005.679,"v":-0.165},{"t":2005.726,"v":-0.187},{"t":2005.774,"v":-0.252},{"t":2005.821,"v":-0.187},{"t":2005.868,"v":-0.310},{"t":2005.896,"v":-0.107},{"t":2005.925,"v":-0.179},{"t":2005.962,"v":-0.295},
{"t":2006.000,"v":-0.136},{"t":2006.038,"v":-0.165},{"t":2006.075,"v":-0.216},{"t":2006.113,"v":-0.143},{"t":2006.151,"v":-0.208},{"t":2006.198,"v":-0.179},{"t":2006.245,"v":-0.194},{"t":2006.292,"v":-0.187},{"t":2006.340,"v":-0.252},{"t":2006.387,"v":-0.303},{"t":2006.415,"v":-0.187},{"t":2006.453,"v":-0.288},{"t":2006.491,"v":-0.136},{"t":2006.528,"v":-0.208},{"t":2006.575,"v":-0.150},{"t":2006.623,"v":-0.143},{"t":2006.670,"v":-0.194},{"t":2006.717,"v":-0.165},{"t":2006.764,"v":-0.216},{"t":2006.811,"v":-0.179},{"t":2006.858,"v":-0.165},{"t":2006.906,"v":-0.194},{"t":2006.953,"v":-0.223},
{"t":2007.000,"v":-0.346},{"t":2007.028,"v":-0.165},{"t":2007.066,"v":-0.223},{"t":2007.104,"v":-0.150},{"t":2007.142,"v":-0.136},{"t":2007.189,"v":-0.208},{"t":2007.226,"v":-0.310},{"t":2007.264,"v":-0.252},{"t":2007.302,"v":-0.187},{"t":2007.349,"v":-0.165},{"t":2007.396,"v":-0.143},{"t":2007.434,"v":-0.165},{"t":2007.472,"v":-0.339},{"t":2007.509,"v":-0.187},{"t":2007.547,"v":-0.208},{"t":2007.585,"v":-0.252},{"t":2007.623,"v":-0.223},{"t":2007.660,"v":-0.274},{"t":2007.698,"v":-0.339},{"t":2007.736,"v":-0.259},{"t":2007.774,"v":-0.310},{"t":2007.811,"v":-0.245},{"t":2007.849,"v":-0.295},{"t":2007.887,"v":-0.339},{"t":2007.925,"v":-0.411},{"t":2007.962,"v":-0.448},
{"t":2008.000,"v":-0.281},{"t":2008.038,"v":-0.201},{"t":2008.075,"v":-0.237},{"t":2008.113,"v":-0.310},{"t":2008.151,"v":-0.252},{"t":2008.189,"v":-0.324},{"t":2008.226,"v":-0.266},{"t":2008.264,"v":-0.346},{"t":2008.292,"v":-0.491},{"t":2008.321,"v":-0.281},{"t":2008.358,"v":-0.223},{"t":2008.396,"v":-0.187},{"t":2008.434,"v":-0.281},{"t":2008.472,"v":-0.368},{"t":2008.509,"v":-0.223},{"t":2008.547,"v":-0.252},{"t":2008.585,"v":-0.194},{"t":2008.623,"v":-0.310},{"t":2008.660,"v":-0.179},{"t":2008.698,"v":-0.448},{"t":2008.726,"v":-0.208},{"t":2008.764,"v":-0.368},{"t":2008.802,"v":-0.201},{"t":2008.840,"v":-0.237},{"t":2008.887,"v":-0.179},{"t":2008.934,"v":-0.208},{"t":2008.981,"v":-0.252},
{"t":2009.019,"v":-0.303},{"t":2009.057,"v":-0.223},{"t":2009.094,"v":-0.165},{"t":2009.132,"v":-0.165},{"t":2009.170,"v":-0.172},{"t":2009.217,"v":-0.172},{"t":2009.264,"v":-0.179},{"t":2009.311,"v":-0.187},{"t":2009.358,"v":-0.150},{"t":2009.396,"v":-0.172},{"t":2009.434,"v":-0.165},{"t":2009.472,"v":-0.208},{"t":2009.509,"v":-0.150},{"t":2009.547,"v":-0.128},{"t":2009.585,"v":-0.165},{"t":2009.623,"v":-0.092},{"t":2009.660,"v":-0.136},{"t":2009.698,"v":-0.150},{"t":2009.736,"v":-0.165},{"t":2009.783,"v":-0.136},{"t":2009.830,"v":-0.150},{"t":2009.877,"v":-0.107},{"t":2009.925,"v":-0.143},{"t":2009.972,"v":-0.165},
{"t":2010.019,"v":-0.136},{"t":2010.066,"v":-0.194},{"t":2010.113,"v":-0.270},{"t":2010.142,"v":-0.143},{"t":2010.179,"v":-0.107},{"t":2010.217,"v":-0.150},{"t":2010.255,"v":-0.136},{"t":2010.302,"v":-0.187},{"t":2010.349,"v":-0.165},{"t":2010.396,"v":-0.208},{"t":2010.443,"v":-0.223},{"t":2010.491,"v":-0.187},{"t":2010.538,"v":-0.201},{"t":2010.585,"v":-0.157},{"t":2010.632,"v":-0.187},{"t":2010.679,"v":-0.172},{"t":2010.726,"v":-0.150},{"t":2010.774,"v":-0.136},{"t":2010.821,"v":-0.165},{"t":2010.868,"v":-0.128},{"t":2010.915,"v":-0.150},{"t":2010.962,"v":-0.114},
{"t":2011.009,"v":-0.143},{"t":2011.057,"v":-0.107},{"t":2011.104,"v":-0.128},{"t":2011.132,"v":-0.107},{"t":2011.160,"v":-0.281},{"t":2011.198,"v":-0.237},{"t":2011.245,"v":-0.201},{"t":2011.292,"v":-0.187},{"t":2011.340,"v":-0.208},{"t":2011.387,"v":-0.165},{"t":2011.434,"v":-0.201},{"t":2011.481,"v":-0.194},{"t":2011.528,"v":-0.216},{"t":2011.575,"v":-0.187},{"t":2011.623,"v":-0.208},{"t":2011.670,"v":-0.179},{"t":2011.717,"v":-0.223},{"t":2011.764,"v":-0.252},{"t":2011.811,"v":-0.201},{"t":2011.858,"v":-0.179},{"t":2011.906,"v":-0.194},{"t":2011.953,"v":-0.223},
{"t":2012.000,"v":-0.266},{"t":2012.047,"v":-0.172},{"t":2012.094,"v":-0.114},{"t":2012.142,"v":-0.150},{"t":2012.189,"v":-0.136},{"t":2012.236,"v":-0.165},{"t":2012.283,"v":-0.157},{"t":2012.330,"v":-0.150},{"t":2012.377,"v":-0.179},{"t":2012.425,"v":-0.208},{"t":2012.472,"v":-0.230},{"t":2012.519,"v":-0.172},{"t":2012.566,"v":-0.143},{"t":2012.613,"v":-0.121},{"t":2012.660,"v":-0.157},{"t":2012.708,"v":-0.143},{"t":2012.755,"v":-0.150},{"t":2012.802,"v":-0.136},{"t":2012.849,"v":-0.143},{"t":2012.896,"v":-0.150},{"t":2012.943,"v":-0.136},{"t":2012.991,"v":-0.165},
{"t":2013.038,"v":-0.150},{"t":2013.085,"v":-0.194},{"t":2013.132,"v":-0.165},{"t":2013.179,"v":-0.136},{"t":2013.226,"v":-0.252},{"t":2013.274,"v":-0.172},{"t":2013.321,"v":-0.114},{"t":2013.368,"v":-0.099},{"t":2013.415,"v":-0.259},{"t":2013.443,"v":-0.150},{"t":2013.491,"v":-0.128},{"t":2013.528,"v":-0.143},{"t":2013.566,"v":-0.136},{"t":2013.604,"v":-0.194},{"t":2013.651,"v":-0.150},{"t":2013.698,"v":-0.165},{"t":2013.745,"v":-0.179},{"t":2013.792,"v":-0.114}
]
},
"columns": 2,
"spacing": {"row": 136.3, "column": 118},
"bounds": "flush",
"concat": [
{
"width": 411, "height": 274,
"title": {"text": "(a) Ann. expected returns."},
"layer": [
{"data": {"name": "a"}, "mark": {"type": "line", "color": "black", "strokeWidth": 1.2, "clip": true},
 "encoding": {
  "x": {"field": "t", "type": "quantitative", "scale": {"domain": [2002.58, 2014.235], "nice": false, "zero": false}, "axis": {"values": [2004, 2006, 2008, 2010, 2012, 2014], "format": "d", "title": null}},
  "y": {"field": "v", "type": "quantitative", "scale": {"domain": [-0.3173, 0.0465], "nice": false, "zero": false}, "axis": {"values": [-0.30, -0.25, -0.20, -0.15, -0.10, -0.05, 0.00], "labelExpr": "abs(datum.value*10 - round(datum.value*10)) < 0.001 ? format(datum.value, '.2f') : ''", "title": null}}
 }},
{"data": {"values": [{"z": 0}]}, "mark": {"type": "rule", "color": "#333", "strokeDash": [4, 4], "strokeWidth": 1}, "encoding": {"y": {"field": "z", "type": "quantitative"}}},
{"data": {"name": "breaks"}, "mark": {"type": "rule", "color": "#ff0000", "strokeWidth": 2}, "encoding": {"x": {"field": "t", "type": "quantitative"}}}
]
},
{
"width": 411, "height": 274,
"title": {"text": "(b) Ann. risk-neutral volatility."},
"layer": [
{"data": {"name": "b"}, "mark": {"type": "line", "color": "black", "strokeWidth": 1.2, "clip": true},
 "encoding": {
  "x": {"field": "t", "type": "quantitative", "scale": {"domain": [2002.58, 2014.235], "nice": false, "zero": false}, "axis": {"values": [2004, 2006, 2008, 2010, 2012, 2014], "format": "d", "title": null}},
  "y": {"field": "v", "type": "quantitative", "scale": {"domain": [-0.028, 0.728], "nice": false, "zero": false}, "axis": {"values": [0, 0.1, 0.2, 0.3, 0.4, 0.5, 0.6, 0.7], "format": ".1f", "title": null}}
 }},
{"data": {"name": "breaks"}, "mark": {"type": "rule", "color": "#ff0000", "strokeWidth": 2}, "encoding": {"x": {"field": "t", "type": "quantitative"}}}
]
},
{
"width": 411, "height": 274,
"title": {"text": "(c) Skewness."},
"layer": [
{"data": {"name": "c"}, "mark": {"type": "line", "color": "black", "strokeWidth": 1.2, "clip": true},
 "encoding": {
  "x": {"field": "t", "type": "quantitative", "scale": {"domain": [2002.58, 2014.235], "nice": false, "zero": false}, "axis": {"values": [2004, 2006, 2008, 2010, 2012, 2014], "format": "d", "title": null}},
  "y": {"field": "v", "type": "quantitative", "scale": {"domain": [-5.14, 0.051], "nice": false, "zero": false}, "axis": {"values": [-5, -4, -3, -2, -1, 0], "format": "d", "title": null}}
 }},
{"data": {"values": [{"z": 0}]}, "mark": {"type": "rule", "color": "#333", "strokeDash": [4, 4], "strokeWidth": 1}, "encoding": {"y": {"field": "z", "type": "quantitative"}}},
{"data": {"name": "breaks"}, "mark": {"type": "rule", "color": "#ff0000", "strokeWidth": 2}, "encoding": {"x": {"field": "t", "type": "quantitative"}}}
]
},
{
"width": 411, "height": 274,
"title": {"text": "(d) Excess kurtosis."},
"layer": [
{"data": {"name": "d"}, "mark": {"type": "line", "color": "black", "strokeWidth": 1.2, "clip": true},
 "encoding": {
  "x": {"field": "t", "type": "quantitative", "scale": {"domain": [2002.58, 2014.235], "nice": false, "zero": false}, "axis": {"values": [2004, 2006, 2008, 2010, 2012, 2014], "format": "d", "title": null}},
  "y": {"field": "v", "type": "quantitative", "scale": {"domain": [-0.15, 61.67], "nice": false, "zero": false}, "axis": {"values": [0, 10, 20, 30, 40, 50, 60], "format": "d", "title": null}}
 }},
{"data": {"values": [{"z": 0}]}, "mark": {"type": "rule", "color": "#333", "strokeDash": [4, 4], "strokeWidth": 1}, "encoding": {"y": {"field": "z", "type": "quantitative"}}},
{"data": {"name": "breaks"}, "mark": {"type": "rule", "color": "#ff0000", "strokeWidth": 2}, "encoding": {"x": {"field": "t", "type": "quantitative"}}}
]
},
{
"width": 411, "height": 274,
"title": {"text": "(e) Left tail shape parameter."},
"layer": [
{"data": {"name": "e"}, "mark": {"type": "line", "color": "black", "strokeWidth": 1.2, "clip": true},
 "encoding": {
  "x": {"field": "t", "type": "quantitative", "scale": {"domain": [2002.58, 2014.235], "nice": false, "zero": false}, "axis": {"values": [2004, 2006, 2008, 2010, 2012, 2014], "format": "d", "title": null}},
  "y": {"field": "v", "type": "quantitative", "scale": {"domain": [-0.566, 0.706], "nice": false, "zero": false}, "axis": {"values": [-0.4, -0.2, 0, 0.2, 0.4, 0.6], "format": ".1f", "title": null}}
 }},
{"data": {"values": [{"z": 0}]}, "mark": {"type": "rule", "color": "#333", "strokeDash": [4, 4], "strokeWidth": 1}, "encoding": {"y": {"field": "z", "type": "quantitative"}}},
{"data": {"name": "breaks"}, "mark": {"type": "rule", "color": "#ff0000", "strokeWidth": 2}, "encoding": {"x": {"field": "t", "type": "quantitative"}}}
]
},
{
"width": 411, "height": 274,
"title": {"text": "(f) Right tail shape parameter."},
"layer": [
{"data": {"name": "f"}, "mark": {"type": "line", "color": "black", "strokeWidth": 1.2, "clip": true},
 "encoding": {
  "x": {"field": "t", "type": "quantitative", "scale": {"domain": [2002.58, 2014.235], "nice": false, "zero": false}, "axis": {"values": [2004, 2006, 2008, 2010, 2012, 2014], "format": "d", "title": null}},
  "y": {"field": "v", "type": "quantitative", "scale": {"domain": [-0.573, 0.0227], "nice": false, "zero": false}, "axis": {"values": [-0.5, -0.4, -0.3, -0.2, -0.1, 0], "format": ".1f", "title": null}}
 }},
{"data": {"name": "breaks"}, "mark": {"type": "rule", "color": "#ff0000", "strokeWidth": 2}, "encoding": {"x": {"field": "t", "type": "quantitative"}}}
]
}
],
"config": {
"view": {"stroke": "#333", "strokeWidth": 1, "fill": null},
"axis": {"domain": false, "grid": false, "ticks": true, "tickColor": "#333", "tickSize": 8.5, "tickWidth": 1, "labelFont": "Liberation Sans", "labelFontSize": 14.5, "labelColor": "#222", "labelPadding": 9, "labelFlush": false, "labelOverlap": false},
"axisY": {"labelAngle": -90, "labelAlign": "center", "labelBaseline": "bottom"},
"title": {"font": "Liberation Serif", "fontSize": 25, "fontWeight": "normal", "color": "black", "orient": "bottom", "anchor": "middle", "baseline": "top", "offset": 22}
}
}
